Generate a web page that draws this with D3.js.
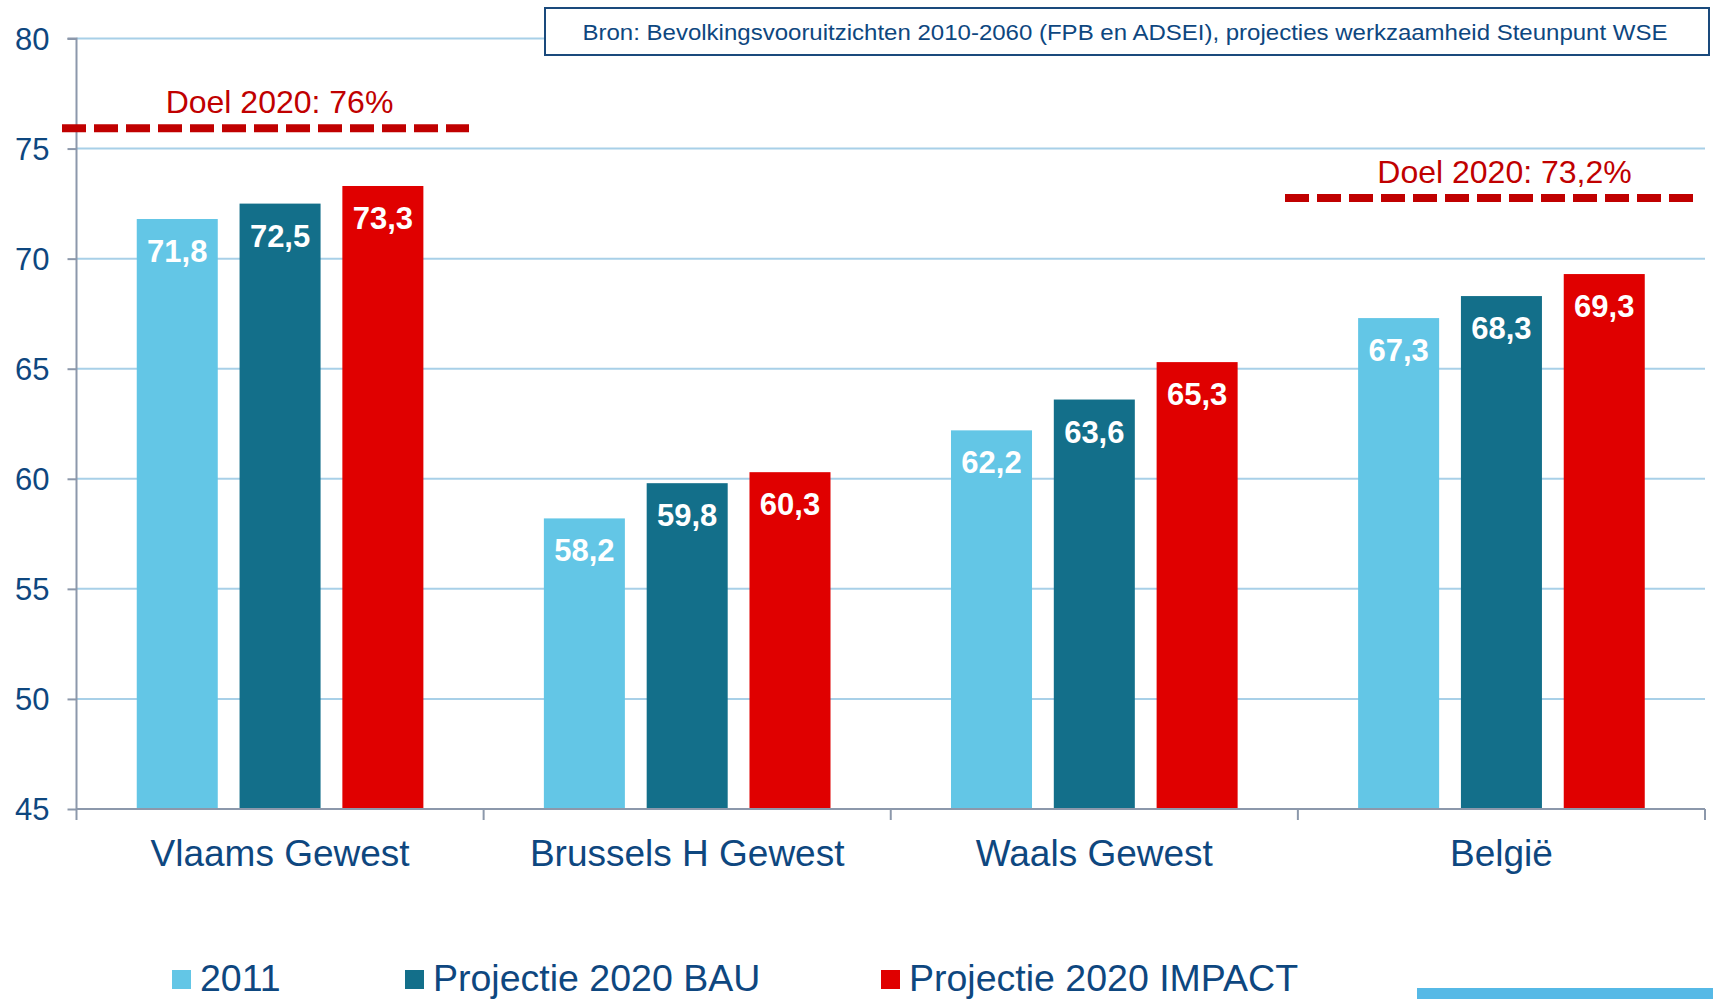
<!DOCTYPE html>
<html><head><meta charset="utf-8">
<script src="https://cdn.jsdelivr.net/npm/d3@7/dist/d3.min.js"></script>
<style>body{margin:0;background:#fff}svg{display:block}text{font-family:"Liberation Sans",Arial,sans-serif}</style>
</head><body><svg id="c" width="1713" height="999"></svg>
<script>
const categories = ["Vlaams Gewest", "Brussels H Gewest", "Waals Gewest", "België"];
const seriesNames = ["2011", "Projectie 2020 BAU", "Projectie 2020 IMPACT"];
const values2011 = [71.8, 58.2, 62.2, 67.3];
const valuesBAU = [72.5, 59.8, 63.6, 68.3];
const valuesIMPACT = [73.3, 60.3, 65.3, 69.3];
const yTicks = [45, 50, 55, 60, 65, 70, 75, 80];
const targetLabels = ["Doel 2020: 76%", "Doel 2020: 73,2%"];
const targetLevels = [75.92, 72.75];
const sourceText = "Bron: Bevolkingsvooruitzichten 2010-2060 (FPB en ADSEI), projecties werkzaamheid Steunpunt WSE";

const colors = ["#63c6e6", "#136f8a", "#e00000"];
const seriesVals = [values2011, valuesBAU, valuesIMPACT];
const axisColor = "#8c98ab", textBlue = "#0e477f", red = "#c00000";

const svg = d3.select("#c");
const pLeft = 76.5, pRight = 1705, pTop = 38.5, pBottom = 809;
const y = d3.scaleLinear().domain([45, 80]).range([pBottom, pTop]);
const x0 = d3.scaleBand().domain(categories).range([pLeft, pRight]).padding(0);
const x1 = d3.scaleBand().domain(seriesNames).range([0, x0.bandwidth()]).paddingInner(0.212).paddingOuter(0.586);

// gridlines
svg.append("g").selectAll("line").data(yTicks.filter(d => d > 45)).join("line")
  .attr("x1", pLeft).attr("x2", pRight).attr("y1", d => y(d)).attr("y2", d => y(d))
  .attr("stroke", "#a8d0e8").attr("stroke-width", 2);

// bars
const groups = svg.append("g").selectAll("g").data(categories).join("g")
  .attr("transform", d => `translate(${x0(d)},0)`);
groups.each(function(cat, ci) {
  const g = d3.select(this);
  seriesNames.forEach((s, si) => {
    const v = seriesVals[si][ci];
    g.append("rect").attr("x", x1(s)).attr("width", x1.bandwidth())
      .attr("y", y(v)).attr("height", y(45) - y(v)).attr("fill", colors[si]);
    g.append("text").attr("x", x1(s) + x1.bandwidth() / 2).attr("y", y(v) + 43)
      .attr("text-anchor", "middle").attr("fill", "#fff").attr("font-weight", "bold")
      .attr("font-size", 31).text(String(v).replace(".", ","));
  });
});

// y axis
const yAxis = d3.axisLeft(y).tickValues(yTicks).tickSize(9).tickPadding(18).tickFormat(d3.format("d"));
const ya = svg.append("g").attr("transform", `translate(${pLeft},0)`).call(yAxis);
ya.select(".domain").attr("stroke", axisColor).attr("stroke-width", 2).attr("d", `M-9,${pTop}H0V${pBottom}`);
ya.selectAll(".tick line").attr("stroke", axisColor).attr("stroke-width", 2);
ya.selectAll(".tick text").attr("fill", textBlue).attr("font-size", 31).attr("font-family", "Liberation Sans, Arial").attr("dy", "0.35em");

// x axis
const xa = svg.append("g").attr("transform", `translate(0,${pBottom})`);
xa.append("line").attr("x1", pLeft).attr("x2", pRight).attr("stroke", axisColor).attr("stroke-width", 2);
const boundaries = categories.map(c => x0(c)).concat([x0(categories[categories.length - 1]) + x0.bandwidth()]);
xa.selectAll("line.t").data(boundaries).join("line").attr("class", "t")
  .attr("x1", d => d).attr("x2", d => d).attr("y1", 0).attr("y2", 11)
  .attr("stroke", axisColor).attr("stroke-width", 2);
xa.selectAll("text").data(categories).join("text")
  .attr("x", d => x0(d) + x0.bandwidth() / 2).attr("y", 57)
  .attr("text-anchor", "middle").attr("fill", textBlue).attr("font-size", 37).text(d => d);

// target lines
const targetX = [[62, 469], [1285, 1693]];
const labelX = [[167, 392], [1379, 1630]];
targetLevels.forEach((t, i) => {
  svg.append("line").attr("x1", targetX[i][0]).attr("x2", targetX[i][1])
    .attr("y1", y(t)).attr("y2", y(t)).attr("stroke", red).attr("stroke-width", 8)
    .attr("stroke-dasharray", "24,8");
  svg.append("text").attr("x", (labelX[i][0] + labelX[i][1]) / 2).attr("y", y(t) - 15)
    .attr("text-anchor", "middle").attr("fill", red).attr("font-size", 32).text(targetLabels[i]);
});

// source box
svg.append("rect").attr("x", 545).attr("y", 8).attr("width", 1164).attr("height", 47)
  .attr("fill", "#fff").attr("stroke", "#1a4a7c").attr("stroke-width", 2);
svg.append("text").attr("x", 1125).attr("y", 40).attr("text-anchor", "middle")
  .attr("fill", textBlue).attr("font-size", 22).attr("textLength", 1085).attr("lengthAdjust", "spacingAndGlyphs")
  .text(sourceText);

// legend
const legendX = [172, 405, 881];
const lg = svg.append("g");
seriesNames.forEach((s, i) => {
  lg.append("rect").attr("x", legendX[i]).attr("y", 970).attr("width", 19).attr("height", 19).attr("fill", colors[i]);
  lg.append("text").attr("x", legendX[i] + 28).attr("y", 991).attr("fill", textBlue).attr("font-size", 37.5).text(s);
});

// decorative bar bottom right
svg.append("rect").attr("x", 1417).attr("y", 988).attr("width", 296).attr("height", 11).attr("fill", "#56b9e6");
</script></body></html>
